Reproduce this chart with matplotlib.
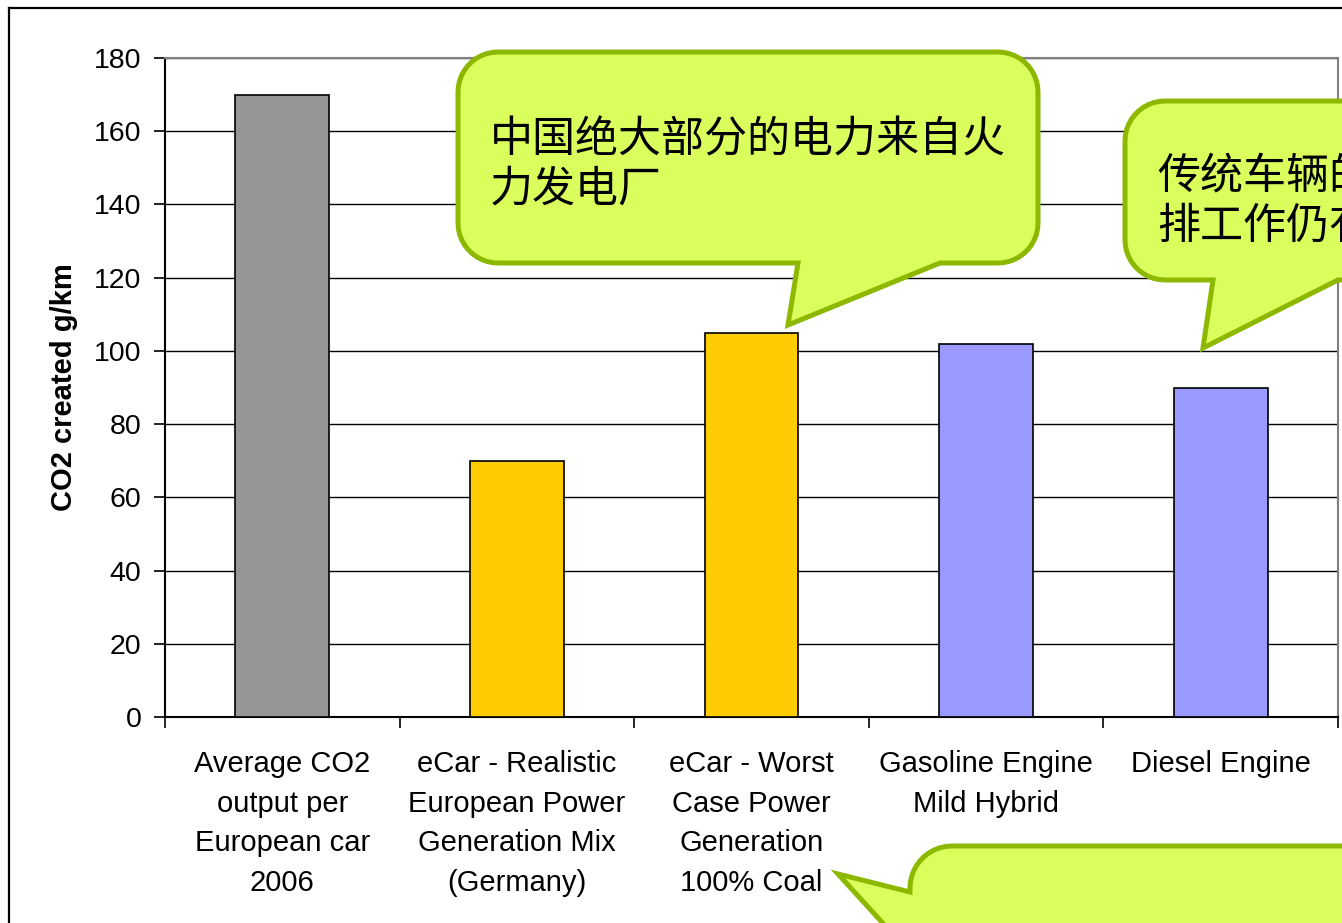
import numpy as np
import matplotlib
matplotlib.use("Agg")
import matplotlib.pyplot as plt
from matplotlib.path import Path
from matplotlib.patches import PathPatch
from matplotlib.lines import Line2D

plt.rcParams['font.family'] = ['Liberation Sans', 'Noto Sans CJK SC', 'DejaVu Sans']

# data
categories = ["Average CO2\noutput per\nEuropean car\n2006",
              "eCar - Realistic\nEuropean Power\nGeneration Mix\n(Germany)",
              "eCar - Worst\nCase Power\nGeneration\n100% Coal",
              "Gasoline Engine\nMild Hybrid",
              "Diesel Engine"]
co2 = [170, 70, 105, 102, 90]
colors = ["#969696", "#FFCC00", "#FFCC00", "#9999FF", "#9999FF"]
yticks = list(range(0, 181, 20))

note1 = "中国绝大部分的电力来自火\n力发电厂"
note2 = "传统车辆的节能减\n排工作仍有很大空间"

W, H = 1342, 923
fig = plt.figure(figsize=(W / 100, H / 100), dpi=100)
ax = fig.add_axes([165 / W, 1 - 717 / H, (1338 - 165) / W, (717 - 58) / H])

x = np.arange(len(co2))
ax.bar(x, co2, width=0.4, color=colors, edgecolor="black", linewidth=1.2, zorder=3)

ax.set_xlim(-0.5, len(co2) - 0.5)
ax.set_ylim(0, 180)
ax.set_yticks(yticks)
ax.yaxis.grid(True, color="black", linewidth=1.0, zorder=0)
ax.set_axisbelow(True)

ax.set_xticks(np.arange(-0.5, len(co2), 1.0))
ax.set_xticklabels([])
ax.set_xticks(x, minor=True)
ax.set_xticklabels(categories, minor=True, fontsize=21)
ax.tick_params(axis="x", which="major", direction="out", length=8, width=1.2)
ax.tick_params(axis="x", which="minor", length=0, pad=24)
ax.tick_params(axis="y", direction="out", length=8, width=1.2, labelsize=20.5, pad=9)
for lbl in ax.get_xticklabels(minor=True):
    lbl.set_linespacing(1.52)
    lbl.set_verticalalignment("top")

ax.set_ylabel("CO2 created g/km", fontsize=21, fontweight="bold")
ax.yaxis.set_label_coords(-0.074, 0.5)

for s in ["left", "bottom"]:
    ax.spines[s].set_color("black")
    ax.spines[s].set_linewidth(1.5)
for s in ["top", "right"]:
    ax.spines[s].set_color("#808080")
    ax.spines[s].set_linewidth(1.5)

# outer chart frame
fig.add_artist(Line2D([9 / W, 9 / W], [0, 1 - 8 / H], color="black", lw=1.6, transform=fig.transFigure))
fig.add_artist(Line2D([9 / W, 1], [1 - 8 / H, 1 - 8 / H], color="black", lw=1.6, transform=fig.transFigure))


def arc(cx, cy, r, a0, a1, n=12):
    t = np.radians(np.linspace(a0, a1, n))
    return list(zip(cx + r * np.cos(t), cy + r * np.sin(t)))


def callout(x0, y0, x1, y1, r, tail, side="bottom"):
    # image pixel coords (y down); tail = (base_a, tip, base_b)
    pts = [(x0 + r, y0), (x1 - r, y0)]
    pts += arc(x1 - r, y0 + r, r, -90, 0)
    pts += arc(x1 - r, y1 - r, r, 0, 90)
    if side == "bottom":
        pts += list(tail)
    pts += arc(x0 + r, y1 - r, r, 90, 180)
    if side == "left":
        pts += list(tail)
    pts += arc(x0 + r, y0 + r, r, 180, 270)
    pts = [(px, H - py) for px, py in pts]
    path = Path(pts + [pts[0]], closed=True)
    p = PathPatch(path, facecolor="#DAFF5C", edgecolor="#8DB800", lw=3.6,
                  joinstyle="miter", transform=None, zorder=10)
    fig.add_artist(p)


callout(458, 52, 1038, 263, 40, [(940, 263), (788, 325), (798, 263)])
callout(1125, 101, 1705, 280, 40, [(1338, 280), (1203, 348), (1213, 280)])
callout(910, 846, 1490, 1100, 42, [(910, 953), (838, 874), (910, 892)], side="left")

fig.text(490 / W, 1 - 165 / H, note1, fontsize=31, family=['Noto Sans CJK SC'],
         ha="left", va="center", linespacing=1.17, zorder=11)
fig.text(1157 / W, 1 - 202 / H, note2, fontsize=31, family=['Noto Sans CJK SC'],
         ha="left", va="center", linespacing=1.17, zorder=11)

fig.savefig("out.png", dpi=100)
